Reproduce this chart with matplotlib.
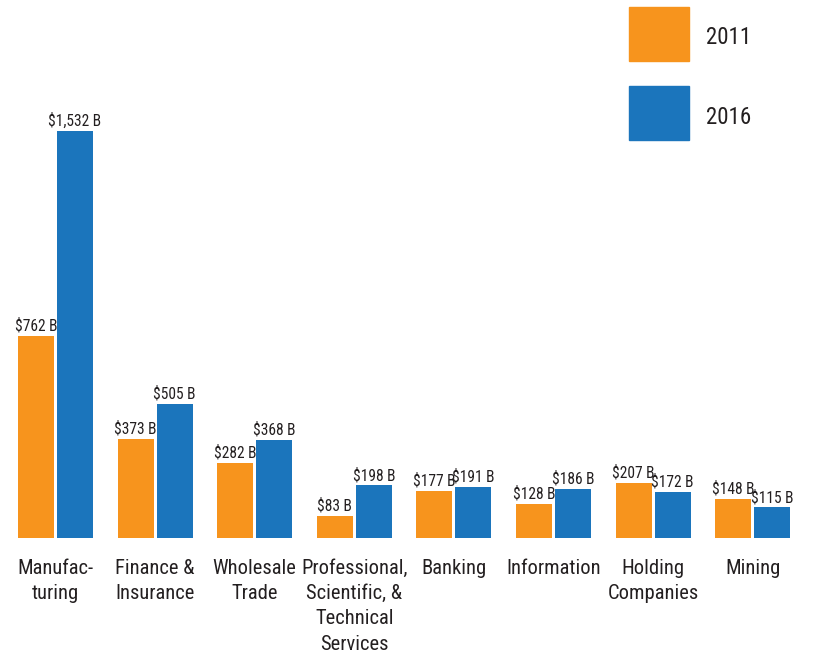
import matplotlib.pyplot as plt
from matplotlib.patches import Rectangle
from matplotlib import font_manager

categories = ["Manufac-\nturing", "Finance &\nInsurance", "Wholesale\nTrade",
              "Professional,\nScientific, &\nTechnical\nServices", "Banking",
              "Information", "Holding\nCompanies", "Mining"]
values_2011 = [762, 373, 282, 83, 177, 128, 207, 148]
values_2016 = [1532, 505, 368, 198, 191, 186, 172, 115]
series_names = ["2011", "2016"]

ORANGE = "#F7941D"
BLUE = "#1B75BC"
TEXT = "#231F20"

# prefer a condensed face if one is around
installed = {f.name for f in font_manager.fontManager.ttflist}
candidates = ["Roboto Condensed", "Open Sans Condensed", "Liberation Sans Narrow",
              "DejaVu Sans Condensed", "Roboto", "DejaVu Sans"]
family = [f for f in candidates if f in installed]
plt.rcParams['font.family'] = family
condensed = family[0] not in ("Roboto", "DejaVu Sans")

fig = plt.figure(figsize=(8.14, 6.56), dpi=100)
ax = fig.add_axes([0, 0, 1, 1])
ax.set_xlim(-0.557, 7.615)
ax.set_ylim(-444, 2025)
ax.axis('off')

width = 0.361
offset = 0.196
x = list(range(len(categories)))

bars_a = ax.bar([i - offset for i in x], values_2011, width, color=ORANGE)
bars_b = ax.bar([i + offset for i in x], values_2016, width, color=BLUE)

val_size = 11.2 if condensed else 9
cat_size = 14.8 if condensed else 13
for bars, vals in ((bars_a, values_2011), (bars_b, values_2016)):
    for b, v in zip(bars, vals):
        ax.text(b.get_x() + b.get_width() / 2, v + 9, f"${v:,} B",
                ha='center', va='bottom', fontsize=val_size, color=TEXT)

for i, cat in enumerate(categories):
    ax.text(i, -78, cat, ha='center', va='top', fontsize=cat_size,
            color=TEXT, linespacing=1.42)

# legend drawn as big squares in the top right
W, H = 814, 656
for k, (name, col) in enumerate(zip(series_names, [ORANGE, BLUE])):
    top = 7 + k * 79
    fig.add_artist(Rectangle((629 / W, 1 - (top + 54) / H), 60 / W, 54 / H,
                             transform=fig.transFigure, color=col))
    fig.text(706 / W, 1 - (top + 31) / H, name, ha='left', va='center',
             fontsize=16.5, color=TEXT)

fig.savefig("out.png", dpi=100)
